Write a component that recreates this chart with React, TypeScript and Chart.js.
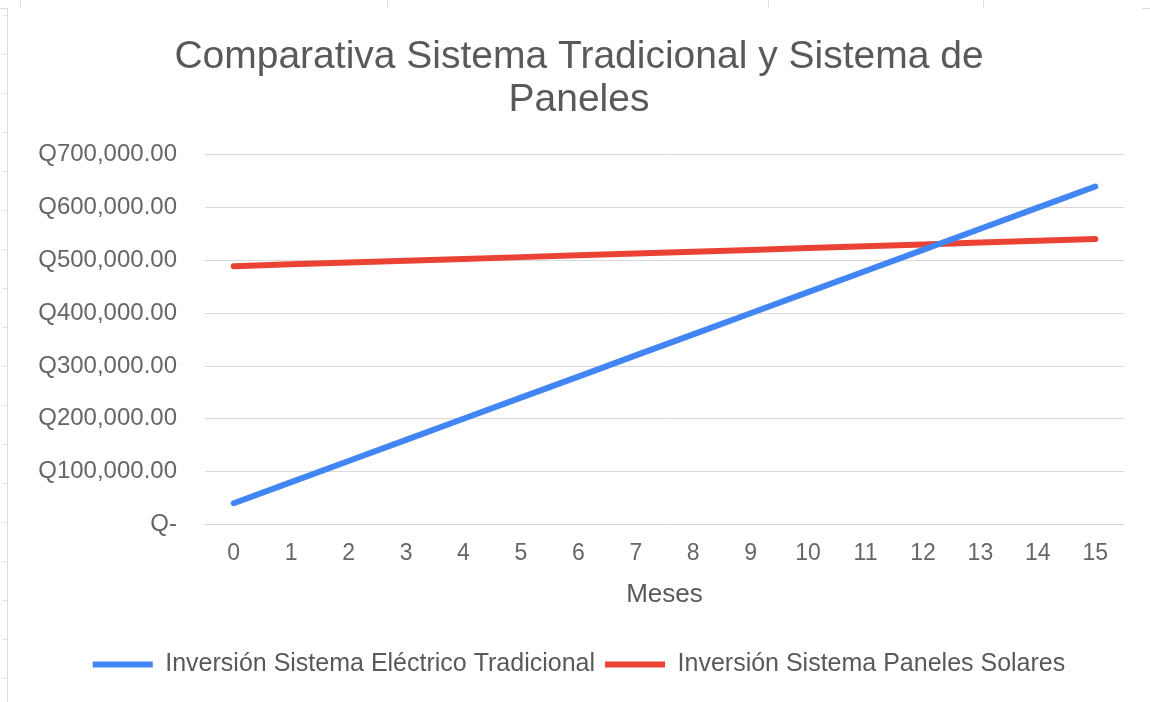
import React, { useEffect, useRef } from "react";
import { Chart, registerables } from "chart.js";

Chart.register(...registerables);

const months = ["0", "1", "2", "3", "4", "5", "6", "7", "8", "9", "10", "11", "12", "13", "14", "15"];
const tradicional = [40000, 80000, 120000, 160000, 200000, 240000, 280000, 320000, 360000, 400000, 440000, 480000, 520000, 560000, 600000, 640000];
const paneles = [489000, 492500, 495900, 499300, 502800, 506200, 509600, 513100, 516500, 519900, 523400, 526800, 530200, 533700, 537100, 540500];
const titleLines = ["Comparativa Sistema Tradicional y Sistema de", "Paneles"];
const seriesNames = ["Inversión Sistema Eléctrico Tradicional", "Inversión Sistema Paneles Solares"];
const xTitle = "Meses";

const FONT = "'Liberation Sans', Arial, sans-serif";

function formatQ(v: number): string {
  if (v === 0) return "Q-";
  return "Q" + v.toLocaleString("en-US", { minimumFractionDigits: 2, maximumFractionDigits: 2 });
}

export default function App() {
  const ref = useRef<HTMLCanvasElement | null>(null);
  useEffect(() => {
    if (!ref.current) return;
    const chart = new Chart(ref.current, {
      type: "line",
      data: {
        labels: months,
        datasets: [
          {
            label: seriesNames[0],
            data: tradicional,
            borderColor: "#4285F4",
            backgroundColor: "#4285F4",
            borderWidth: 6,
            borderCapStyle: "round",
            borderJoinStyle: "round",
            pointRadius: 0,
            tension: 0,
            yAxisID: "y",
          },
          {
            label: seriesNames[1],
            data: paneles,
            borderColor: "#EA4335",
            backgroundColor: "#EA4335",
            borderWidth: 6,
            borderCapStyle: "round",
            borderJoinStyle: "round",
            pointRadius: 0,
            tension: 0,
            yAxisID: "y",
          },
        ],
      },
      options: {
        animation: false,
        responsive: false,
        maintainAspectRatio: false,
        layout: { padding: { left: 0, right: 0, top: 0, bottom: 15 } },
        plugins: {
          title: {
            display: true,
            text: titleLines,
            color: "#595959",
            font: { family: FONT, size: 39, weight: "normal", lineHeight: 1.1 },
            padding: { top: 28, bottom: 33 },
          },
          legend: {
            position: "bottom",
            labels: {
              usePointStyle: true,
              pointStyle: "line",
              pointStyleWidth: 60,
              color: "#595959",
              font: { family: FONT, size: 25 },
              padding: 10,
            },
          },
          tooltip: { enabled: false },
        },
        scales: {
          x: {
            offset: true,
            grid: { display: false, drawTicks: false },
            border: { display: false },
            ticks: { color: "#666666", font: { family: FONT, size: 23 }, padding: 15, maxRotation: 0, autoSkip: false },
            title: {
              display: true,
              text: xTitle,
              color: "#595959",
              font: { family: FONT, size: 26, lineHeight: 1.0 },
              padding: { top: 0, bottom: 34 },
            },
          },
          y: {
            min: 0,
            max: 700000,
            grid: { color: "#d9d9d9", lineWidth: 1, drawTicks: false },
            border: { display: false },
            ticks: {
              stepSize: 100000,
              color: "#666666",
              font: { family: FONT, size: 24 },
              padding: 28,
              callback: (v: any) => formatQ(Number(v)),
            },
            afterFit: (s: any) => {
              s.width = 197;
            },
          },
          yR: {
            type: "linear",
            position: "right",
            display: true,
            grid: { display: false, drawTicks: false },
            border: { display: false },
            ticks: { display: false },
            afterFit: (s: any) => {
              s.width = 26;
            },
          },
        },
      },
    });
    return () => chart.destroy();
  }, []);

  const vLines = [20, 387, 768, 983];
  const rowTicks = [15, 54, 93, 132, 171, 210, 249, 288, 327, 366, 405, 444, 483, 522, 561, 600, 639, 678];
  return (
    <div style={{ position: "relative", width: 1142, height: 694 }}>
      {vLines.map((x) => (
        <div key={"v" + x} style={{ position: "fixed", left: x, top: 0, width: 1, height: 9, background: "#e0e0e0" }} />
      ))}
      <div style={{ position: "fixed", left: 0, top: 8, width: 1150, height: 1, background: "#dcdcdc" }} />
      <div style={{ position: "fixed", left: 7, top: 8, width: 1, height: 694, background: "#dcdcdc" }} />
      {rowTicks.map((y) => (
        <div key={"r" + y} style={{ position: "fixed", left: 3, top: y, width: 4, height: 1, background: "#e0e0e0" }} />
      ))}
      <canvas ref={ref} width={1142} height={694} style={{ display: "block", position: "relative", background: "#fff" }} />
    </div>
  );
}
